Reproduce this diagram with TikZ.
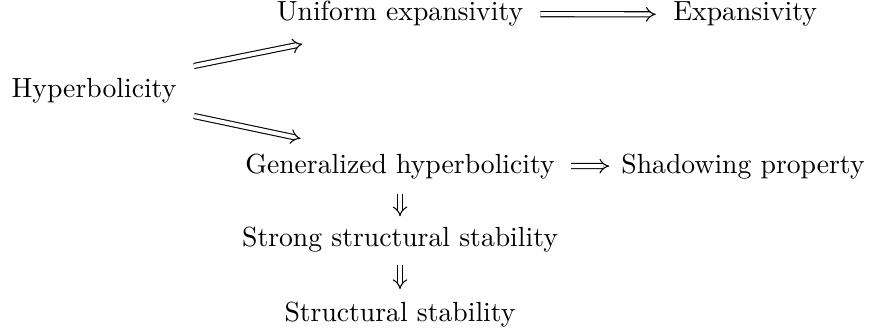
\documentclass[tikz,border=0pt]{standalone}
\usepackage{amsmath,amssymb}
\usepackage{tikz}
\usetikzlibrary{arrows.meta,calc}
\tikzset{
  prop/.style={anchor=base,font=\fontsize{10.25pt}{12pt}\selectfont},
  imp/.style={double,double distance=1.5pt,line width=0.4pt,-{Implies}},
}
\begin{document}
\begin{tikzpicture}
  \useasboundingbox (0,0) rectangle (11.351,-4.348);
  \node[prop] (hyp)    at (1.224,-1.263) {Hyperbolicity};
  \node[prop] (unif)   at (5.207,-0.273) {Uniform expansivity};
  \node[prop] (exps)   at (9.700,-0.273) {Expansivity};
  \node[prop] (gen)    at (5.207,-2.252) {Generalized hyperbolicity};
  \node[prop] (shad)   at (9.672,-2.252) {Shadowing property};
  \node[prop] (strong) at (5.207,-3.215) {Strong structural stability};
  \node[prop] (struct) at (5.207,-4.191) {Structural stability};
  \draw[imp] ([shift={(3pt,0.85pt)}]hyp.north east) -- ([shift={(13pt,-2.9pt)}]unif.south west);
  \draw[imp] ([shift={(3pt,-1.4pt)}]hyp.south east) -- ([shift={(24pt,2pt)}]gen.north west);
  \draw[imp,shorten <=2.8pt,shorten >=3pt] (unif) -- (exps);
  \draw[imp,shorten <=2.5pt,shorten >=1pt] (gen) -- (shad);
  \draw[imp,shorten <=2.2pt,shorten >=0.6pt] (gen) -- (strong);
  \draw[imp,shorten <=1.2pt,shorten >=1.4pt] (strong) -- (struct);
\end{tikzpicture}
\end{document}
